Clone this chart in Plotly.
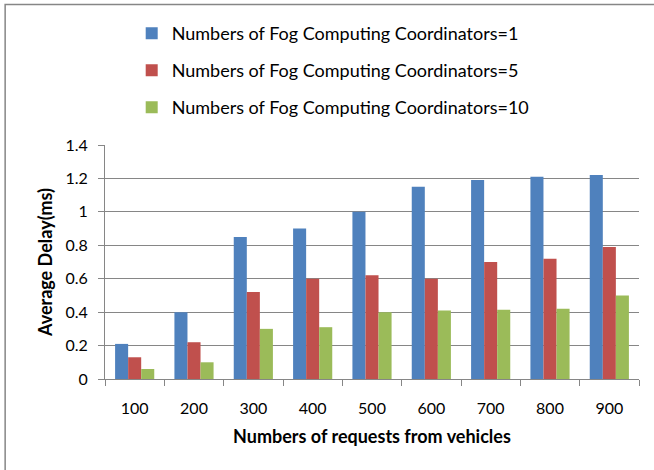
import plotly.graph_objects as go

requests = ["100", "200", "300", "400", "500", "600", "700", "800", "900"]
delay_fcc_1 = [0.21, 0.40, 0.85, 0.90, 1.00, 1.15, 1.19, 1.21, 1.22]
delay_fcc_5 = [0.13, 0.22, 0.52, 0.60, 0.62, 0.60, 0.70, 0.72, 0.79]
delay_fcc_10 = [0.06, 0.10, 0.30, 0.31, 0.40, 0.41, 0.415, 0.42, 0.50]

series_names = [
    "Numbers of Fog Computing Coordinators=1",
    "Numbers of Fog Computing Coordinators=5",
    "Numbers of Fog Computing Coordinators=10",
]
series_colors = ["#4F81BD", "#C0504D", "#9BBB59"]

FONT = "Lato"

fig = go.Figure()

for i, (name, values, color) in enumerate(
    zip(series_names, [delay_fcc_1, delay_fcc_5, delay_fcc_10], series_colors)
):
    fig.add_trace(
        go.Bar(
            x=requests,
            y=values,
            name=name,
            marker=dict(color=color, line=dict(width=0)),
            legendgroup=str(i),
        )
    )

# chart frame (right and bottom edges fall outside the picture)
fig.add_shape(
    type="rect",
    xref="paper",
    yref="paper",
    x0=-0.187,
    x1=1.12,
    y0=-0.45,
    y1=1.6,
    line=dict(color="#868686", width=1.5),
    layer="below",
)

fig.update_xaxes(
    type="category",
    showgrid=False,
    showline=True,
    linecolor="#868686",
    ticks="outside",
    tickson="boundaries",
    ticklen=6,
    tickcolor="#868686",
    ticklabelstandoff=15,
    tickfont=dict(family=FONT, size=16, color="#000000"),
    title=dict(
        text="<b>Numbers of requests from vehicles</b>",
        font=dict(family=FONT, size=18, color="#000000"),
        standoff=14,
    ),
)

fig.update_yaxes(
    range=[0, 1.4],
    dtick=0.2,
    showgrid=True,
    gridcolor="#868686",
    gridwidth=1,
    showline=True,
    linecolor="#868686",
    ticks="outside",
    ticklen=6,
    tickcolor="#868686",
    ticklabelstandoff=7,
    zeroline=False,
    tickfont=dict(family=FONT, size=16, color="#000000"),
    title=dict(
        text="<b>Average Delay(ms)</b>",
        font=dict(family=FONT, size=18, color="#000000"),
        standoff=8,
    ),
)

fig.update_layout(
    width=654,
    height=470,
    barmode="group",
    bargap=0.34,
    bargroupgap=0,
    plot_bgcolor="white",
    paper_bgcolor="white",
    margin=dict(l=105, r=15, t=145, b=91, autoexpand=False),
    legend=dict(
        x=0.05,
        y=1.555,
        xanchor="left",
        yanchor="top",
        font=dict(family=FONT, size=18, color="#000000"),
        tracegroupgap=10.5,
        bgcolor="rgba(0,0,0,0)",
    ),
)

fig.write_html(
    "out.html",
    config={"displayModeBar": False},
    post_script="document.body.style.margin='0';document.body.style.overflow='hidden';",
)
